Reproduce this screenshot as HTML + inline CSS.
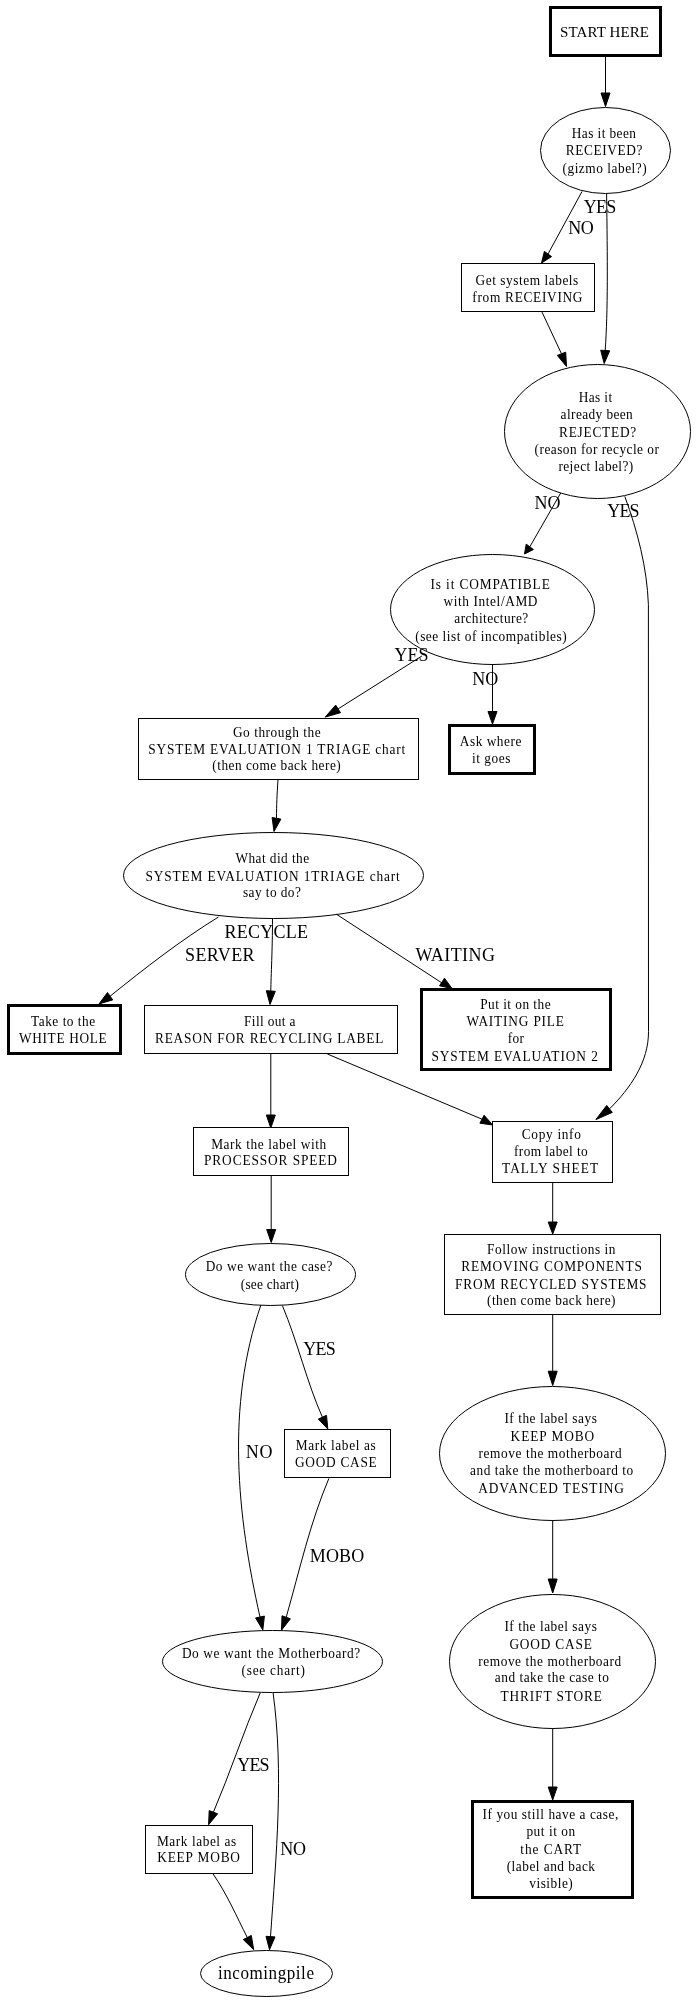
<!DOCTYPE html>
<html><head><meta charset="utf-8"><style>
html,body{margin:0;padding:0;background:#fff;}
svg{display:block;will-change:transform;}
rect,ellipse{fill:none;stroke:#000;stroke-width:1;}
text{font-family:"Liberation Serif",serif;text-anchor:middle;fill:#000;}
.e{fill:none;stroke:#000;stroke-width:1;}
.a{fill:#000;stroke:#000;stroke-width:1;}
rect.b{stroke-width:3;}
</style></head><body>
<svg width="698" height="2004" viewBox="0 0 698 2004">
<rect x="550.5" y="7.5" width="110" height="48" class="b"/><text transform="scale(1.0,1)" x="604.50" y="37.1" font-size="15" textLength="88.80" lengthAdjust="spacing">START HERE</text>
<ellipse cx="605.5" cy="150.5" rx="65" ry="43"/><text transform="scale(0.92,1)" x="656.36" y="138.1" font-size="14.5" textLength="69.67" lengthAdjust="spacing">Has it been</text><text transform="scale(0.92,1)" x="656.58" y="155.0" font-size="14.5" textLength="83.37" lengthAdjust="spacing">RECEIVED?</text><text transform="scale(0.92,1)" x="657.17" y="172.8" font-size="14.5" textLength="91.52" lengthAdjust="spacing">(gizmo label?)</text>
<rect x="461.5" y="263.5" width="133.0" height="48.0"/><text transform="scale(0.92,1)" x="572.77" y="285.0" font-size="14.5" textLength="111.63" lengthAdjust="spacing">Get system labels</text><text transform="scale(0.92,1)" x="573.26" y="302.0" font-size="14.5" textLength="119.78" lengthAdjust="spacing">from RECEIVING</text>
<ellipse cx="597.5" cy="431.5" rx="93" ry="67"/><text transform="scale(0.92,1)" x="647.23" y="402.1" font-size="14.5" textLength="36.20" lengthAdjust="spacing">Has it</text><text transform="scale(0.92,1)" x="648.59" y="419.0" font-size="14.5" textLength="78.48" lengthAdjust="spacing">already been</text><text transform="scale(0.92,1)" x="649.57" y="437.1" font-size="14.5" textLength="83.91" lengthAdjust="spacing">REJECTED?</text><text transform="scale(0.92,1)" x="648.64" y="453.7" font-size="14.5" textLength="135.11" lengthAdjust="spacing">(reason for recycle or</text><text transform="scale(0.92,1)" x="647.66" y="470.9" font-size="14.5" textLength="81.41" lengthAdjust="spacing">reject label?)</text>
<ellipse cx="492.5" cy="609.5" rx="102" ry="55"/><text transform="scale(0.92,1)" x="532.77" y="588.95" font-size="14.5" textLength="129.67" lengthAdjust="spacing">Is it COMPATIBLE</text><text transform="scale(0.92,1)" x="533.15" y="606.1" font-size="14.5" textLength="102.17" lengthAdjust="spacing">with Intel/AMD</text><text transform="scale(0.92,1)" x="533.97" y="623.05" font-size="14.5" textLength="80.33" lengthAdjust="spacing">architecture?</text><text transform="scale(0.92,1)" x="533.64" y="641.1" font-size="14.5" textLength="164.67" lengthAdjust="spacing">(see list of incompatibles)</text>
<rect x="449.5" y="725.5" width="85" height="48" class="b"/><text transform="scale(0.92,1)" x="533.21" y="746.0" font-size="14.5" textLength="66.85" lengthAdjust="spacing">Ask where</text><text transform="scale(0.92,1)" x="533.91" y="763.15" font-size="14.5" textLength="41.96" lengthAdjust="spacing">it goes</text>
<rect x="138.5" y="718.5" width="280.0" height="61.0"/><text transform="scale(0.92,1)" x="300.87" y="736.7" font-size="14.5" textLength="95.43" lengthAdjust="spacing">Go through the</text><text transform="scale(0.92,1)" x="300.87" y="753.85" font-size="14.5" textLength="279.35" lengthAdjust="spacing">SYSTEM EVALUATION 1 TRIAGE chart</text><text transform="scale(0.92,1)" x="300.60" y="770.5" font-size="14.5" textLength="139.67" lengthAdjust="spacing">(then come back here)</text>
<ellipse cx="273.5" cy="875.5" rx="150" ry="43"/><text transform="scale(0.92,1)" x="295.92" y="862.7" font-size="14.5" textLength="80.11" lengthAdjust="spacing">What did the</text><text transform="scale(0.92,1)" x="296.30" y="880.7" font-size="14.5" textLength="276.52" lengthAdjust="spacing">SYSTEM EVALUATION 1TRIAGE chart</text><text transform="scale(0.92,1)" x="295.54" y="897.5" font-size="14.5" textLength="63.04" lengthAdjust="spacing">say to do?</text>
<rect x="8.5" y="1005.5" width="112" height="48" class="b"/><text transform="scale(0.92,1)" x="68.59" y="1025.7" font-size="14.5" textLength="69.78" lengthAdjust="spacing">Take to the</text><text transform="scale(0.92,1)" x="68.32" y="1042.9" font-size="14.5" textLength="95.33" lengthAdjust="spacing">WHITE HOLE</text>
<rect x="144.5" y="1005.5" width="253.0" height="48.0"/><text transform="scale(0.92,1)" x="293.26" y="1025.7" font-size="14.5" textLength="55.87" lengthAdjust="spacing">Fill out a</text><text transform="scale(0.92,1)" x="292.61" y="1042.9" font-size="14.5" textLength="248.26" lengthAdjust="spacing">REASON FOR RECYCLING LABEL</text>
<rect x="421.5" y="989.5" width="189" height="80" class="b"/><text transform="scale(0.92,1)" x="560.22" y="1009.1" font-size="14.5" textLength="76.52" lengthAdjust="spacing">Put it on the</text><text transform="scale(0.92,1)" x="560.05" y="1026.0" font-size="14.5" textLength="105.98" lengthAdjust="spacing">WAITING PILE</text><text transform="scale(0.92,1)" x="560.76" y="1042.8" font-size="14.5" textLength="17.61" lengthAdjust="spacing">for</text><text transform="scale(0.92,1)" x="559.40" y="1060.8" font-size="14.5" textLength="180.98" lengthAdjust="spacing">SYSTEM EVALUATION 2</text>
<rect x="492.5" y="1121.5" width="120.0" height="61.0"/><text transform="scale(0.92,1)" x="599.29" y="1138.8" font-size="14.5" textLength="64.24" lengthAdjust="spacing">Copy info</text><text transform="scale(0.92,1)" x="598.75" y="1156.4" font-size="14.5" textLength="80.11" lengthAdjust="spacing">from label to</text><text transform="scale(0.92,1)" x="597.93" y="1173.2" font-size="14.5" textLength="104.35" lengthAdjust="spacing">TALLY SHEET</text>
<rect x="193.5" y="1127.5" width="155.0" height="48.0"/><text transform="scale(0.92,1)" x="292.07" y="1148.8" font-size="14.5" textLength="125.00" lengthAdjust="spacing">Mark the label with</text><text transform="scale(0.92,1)" x="294.02" y="1165.3" font-size="14.5" textLength="144.57" lengthAdjust="spacing">PROCESSOR SPEED</text>
<rect x="444.5" y="1234.5" width="216.0" height="80.0"/><text transform="scale(0.92,1)" x="599.18" y="1254.1" font-size="14.5" textLength="139.67" lengthAdjust="spacing">Follow instructions in</text><text transform="scale(0.92,1)" x="599.51" y="1271.0" font-size="14.5" textLength="196.41" lengthAdjust="spacing">REMOVING COMPONENTS</text><text transform="scale(0.92,1)" x="598.64" y="1288.6" font-size="14.5" textLength="208.15" lengthAdjust="spacing">FROM RECYCLED SYSTEMS</text><text transform="scale(0.92,1)" x="599.18" y="1305.4" font-size="14.5" textLength="139.67" lengthAdjust="spacing">(then come back here)</text>
<ellipse cx="270.5" cy="1274.5" rx="85" ry="31"/><text transform="scale(0.92,1)" x="292.50" y="1270.7" font-size="14.5" textLength="137.83" lengthAdjust="spacing">Do we want the case?</text><text transform="scale(0.92,1)" x="293.32" y="1288.9" font-size="14.5" textLength="63.15" lengthAdjust="spacing">(see chart)</text>
<rect x="284.5" y="1429.5" width="106.0" height="48.0"/><text transform="scale(0.92,1)" x="364.89" y="1449.8" font-size="14.5" textLength="86.96" lengthAdjust="spacing">Mark label as</text><text transform="scale(0.92,1)" x="365.05" y="1466.7" font-size="14.5" textLength="88.80" lengthAdjust="spacing">GOOD CASE</text>
<ellipse cx="552.5" cy="1453.5" rx="113" ry="67"/><text transform="scale(0.92,1)" x="598.53" y="1423.1" font-size="14.5" textLength="100.54" lengthAdjust="spacing">If the label says</text><text transform="scale(0.92,1)" x="600.43" y="1440.7" font-size="14.5" textLength="90.87" lengthAdjust="spacing">KEEP MOBO</text><text transform="scale(0.92,1)" x="597.99" y="1457.9" font-size="14.5" textLength="155.54" lengthAdjust="spacing">remove the motherboard</text><text transform="scale(0.92,1)" x="599.57" y="1474.7" font-size="14.5" textLength="177.39" lengthAdjust="spacing">and take the motherboard to</text><text transform="scale(0.92,1)" x="599.02" y="1492.6" font-size="14.5" textLength="158.48" lengthAdjust="spacing">ADVANCED TESTING</text>
<ellipse cx="552.5" cy="1661.5" rx="103" ry="67"/><text transform="scale(0.92,1)" x="598.53" y="1631.0" font-size="14.5" textLength="100.54" lengthAdjust="spacing">If the label says</text><text transform="scale(0.92,1)" x="598.48" y="1648.9" font-size="14.5" textLength="89.57" lengthAdjust="spacing">GOOD CASE</text><text transform="scale(0.92,1)" x="597.55" y="1666.1" font-size="14.5" textLength="155.54" lengthAdjust="spacing">remove the motherboard</text><text transform="scale(0.92,1)" x="599.84" y="1682.5" font-size="14.5" textLength="124.02" lengthAdjust="spacing">and take the case to</text><text transform="scale(0.92,1)" x="599.13" y="1700.9" font-size="14.5" textLength="110.22" lengthAdjust="spacing">THRIFT STORE</text>
<ellipse cx="272.5" cy="1661.5" rx="110" ry="31"/><text transform="scale(0.92,1)" x="294.67" y="1657.7" font-size="14.5" textLength="193.91" lengthAdjust="spacing">Do we want the Motherboard?</text><text transform="scale(0.92,1)" x="297.01" y="1674.6" font-size="14.5" textLength="68.80" lengthAdjust="spacing">(see chart)</text>
<rect x="145.5" y="1825.5" width="107.0" height="48.0"/><text transform="scale(0.92,1)" x="213.64" y="1845.7" font-size="14.5" textLength="86.20" lengthAdjust="spacing">Mark label as</text><text transform="scale(0.92,1)" x="215.87" y="1862.4" font-size="14.5" textLength="90.00" lengthAdjust="spacing">KEEP MOBO</text>
<rect x="472.5" y="1801.5" width="160" height="96" class="b"/><text transform="scale(0.92,1)" x="598.32" y="1819.1" font-size="14.5" textLength="147.50" lengthAdjust="spacing">If you still have a case,</text><text transform="scale(0.92,1)" x="598.70" y="1836.4" font-size="14.5" textLength="53.04" lengthAdjust="spacing">put it on</text><text transform="scale(0.92,1)" x="598.64" y="1853.6" font-size="14.5" textLength="66.20" lengthAdjust="spacing">the CART</text><text transform="scale(0.92,1)" x="598.75" y="1870.8" font-size="14.5" textLength="95.98" lengthAdjust="spacing">(label and back</text><text transform="scale(0.92,1)" x="598.97" y="1888.3" font-size="14.5" textLength="47.28" lengthAdjust="spacing">visible)</text>
<ellipse cx="266.5" cy="1973.5" rx="66" ry="23"/><text transform="scale(0.95,1)" x="280.00" y="1979.1" font-size="18" textLength="101.05" lengthAdjust="spacing">incomingpile</text>
<path class="e" d="M605.5,57 L605.5,93"/><polygon class="a" points="601.0,93.0 610.0,93.0 605.5,106.5"/>
<path class="e" d="M582,191.5 L548,254"/><polygon class="a" points="544.4,251.4 551.6,256.6 541.5,263.0"/>
<path class="e" d="M606.6,193.6 C607.5,260 608,310 605.2,350.5"/><polygon class="a" points="600.7,350.2 609.7,350.8 604.2,363.5"/>
<path class="e" d="M541.5,311 L561.5,353.8"/><polygon class="a" points="557.3,355.4 565.7,352.2 566.5,366.5"/>
<path class="e" d="M560.7,493 L529.8,546.8"/><polygon class="a" points="526.2,544.1 533.4,549.5 524.5,554.0"/>
<path class="e" d="M624.8,496.4 C637.5,531.1 647.0,567.5 648.4,604.6 L648.5,1031.5 C648.7,1062.0 630.2,1088.4 609.5,1108.9"/><polygon class="a" points="606.7,1105.4 612.3,1112.4 595.9,1119.6"/>
<path class="e" d="M421.9,656 L338.1,708.9"/><polygon class="a" points="335.7,705.1 340.5,712.7 325.2,717.1"/>
<path class="e" d="M492.5,664 L492.5,711.5"/><polygon class="a" points="488.0,711.5 497.0,711.5 492.5,724.0"/>
<path class="e" d="M278,779.5 C277,795 276.5,805 276.5,818.3"/><polygon class="a" points="272.1,817.5 280.9,819.1 274.0,831.5"/>
<path class="e" d="M218.4,917.0 C180.5,940.5 144.8,968.2 110.1,996.2"/><polygon class="a" points="107.5,992.5 112.7,999.9 99.0,1003.9"/>
<path class="e" d="M272.5,918.5 C272.5,950 271,975 270.8,991"/><polygon class="a" points="266.3,990.7 275.3,991.3 270.0,1004.5"/>
<path class="e" d="M336.5,914.3 L442,983"/><polygon class="a" points="439.5,985.8 444.5,978.2 452.0,988.5"/>
<path class="e" d="M270.8,1053 L270.8,1115"/><polygon class="a" points="266.3,1115.0 275.3,1115.0 270.8,1128.0"/>
<path class="e" d="M327.4,1054 L482,1119.2"/><polygon class="a" points="479.9,1123.2 484.1,1115.2 492.7,1125.0"/>
<path class="e" d="M552.7,1182.5 L552.7,1222"/><polygon class="a" points="548.2,1222.0 557.2,1222.0 552.7,1234.0"/>
<path class="e" d="M271.2,1175.5 L271.2,1229.5"/><polygon class="a" points="266.7,1229.5 275.7,1229.5 271.2,1242.5"/>
<path class="e" d="M282.4,1305.6 C297.9,1342.7 306.8,1382.2 322.4,1417.2"/><polygon class="a" points="318.3,1419.1 326.5,1415.3 327.8,1429.0"/>
<path class="e" d="M260.9,1305.0 C225.9,1406.4 237.0,1514.8 260.0,1617.0"/><polygon class="a" points="255.6,1617.9 264.4,1616.1 262.8,1630.0"/>
<path class="e" d="M328.9,1478.4 C310.2,1522.5 299.8,1569.3 286.2,1617.3"/><polygon class="a" points="282.0,1615.8 290.4,1618.8 281.5,1630.2"/>
<path class="e" d="M552.7,1314.5 L552.7,1371.2"/><polygon class="a" points="548.2,1371.2 557.2,1371.2 552.7,1385.5"/>
<path class="e" d="M552.7,1520 L552.7,1579"/><polygon class="a" points="548.2,1579.0 557.2,1579.0 552.7,1593.0"/>
<path class="e" d="M552.7,1728 L552.7,1787"/><polygon class="a" points="548.2,1787.0 557.2,1787.0 552.7,1800.0"/>
<path class="e" d="M260.2,1692.9 C243.2,1732.4 230.0,1773.5 213.4,1812.2"/><polygon class="a" points="209.2,1810.6 217.6,1813.8 208.6,1824.7"/>
<path class="e" d="M273.1,1692.9 C283.9,1773.0 276.3,1854.4 270.5,1936.6"/><polygon class="a" points="266.0,1936.3 275.0,1936.9 269.5,1949.7"/>
<path class="e" d="M212.9,1873.7 C226.8,1893.7 236.3,1916.0 247.3,1937.5"/><polygon class="a" points="243.3,1939.6 251.3,1935.4 253.7,1949.7"/>
<text transform="scale(1.0,1)" x="600.00" y="212.7" font-size="18" textLength="32.70" lengthAdjust="spacing">YES</text>
<text transform="scale(1.0,1)" x="581.00" y="234.4" font-size="18" textLength="25.40" lengthAdjust="spacing">NO</text>
<text transform="scale(1.0,1)" x="547.50" y="509" font-size="18">NO</text>
<text transform="scale(1.0,1)" x="623.40" y="516.8" font-size="18" textLength="32.20" lengthAdjust="spacing">YES</text>
<text transform="scale(1.0,1)" x="411.50" y="661.4" font-size="18">YES</text>
<text transform="scale(1.0,1)" x="485.30" y="685" font-size="18">NO</text>
<text transform="scale(1.0,1)" x="266.25" y="937.5" font-size="18" textLength="83.50" lengthAdjust="spacing">RECYCLE</text>
<text transform="scale(1.0,1)" x="219.80" y="960.5" font-size="18" textLength="69.60" lengthAdjust="spacing">SERVER</text>
<text transform="scale(1.0,1)" x="455.20" y="961" font-size="18" textLength="79.50" lengthAdjust="spacing">WAITING</text>
<text transform="scale(1.0,1)" x="319.50" y="1355" font-size="18" textLength="32.30" lengthAdjust="spacing">YES</text>
<text transform="scale(1.0,1)" x="259.10" y="1458.2" font-size="18" textLength="26.70" lengthAdjust="spacing">NO</text>
<text transform="scale(1.0,1)" x="337.00" y="1562.3" font-size="18" textLength="54.50" lengthAdjust="spacing">MOBO</text>
<text transform="scale(1.0,1)" x="253.40" y="1770.8" font-size="18" textLength="32.30" lengthAdjust="spacing">YES</text>
<text transform="scale(1.0,1)" x="293.20" y="1854.6" font-size="18" textLength="25.80" lengthAdjust="spacing">NO</text>
</svg></body></html>
